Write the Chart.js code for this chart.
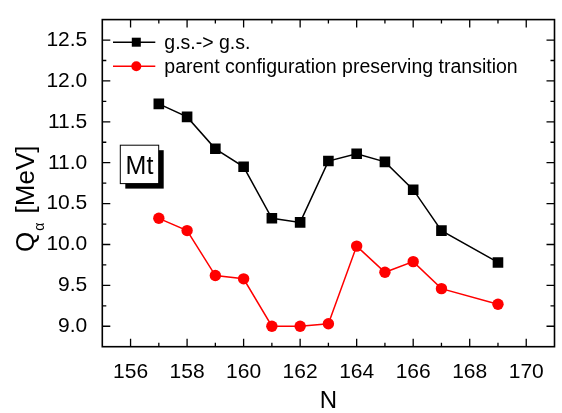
<!DOCTYPE html>
<html>
<head>
<meta charset="utf-8">
<script src="https://cdn.jsdelivr.net/npm/chart.js@4/dist/chart.umd.min.js"></script>
<style>
  html, body { margin: 0; padding: 0; background: #fff; }
</style>
</head>
<body>
<canvas id="myChart" width="562" height="413"></canvas>
<script>
// g.s. -> g.s. Q-alpha values (N = 168 not measured)
const nGs = [157, 158, 159, 160, 161, 162, 163, 164, 165, 166, 167, 169];
const qGs = [11.72, 11.56, 11.17, 10.95, 10.32, 10.27, 11.02, 11.11, 11.01, 10.67, 10.17, 9.78];

// parent configuration preserving transition
const nPc = [157, 158, 159, 160, 161, 162, 163, 164, 165, 166, 167, 169];
const qPc = [10.32, 10.17, 9.62, 9.58, 9.00, 9.00, 9.03, 9.98, 9.66, 9.79, 9.46, 9.27];

// axis ticks
const xTicks = [156, 158, 160, 162, 164, 166, 168, 170];
const xMinor = [157, 159, 161, 163, 165, 167, 169];
const yTicks = [9.0, 9.5, 10.0, 10.5, 11.0, 11.5, 12.0, 12.5];
const yMinor = [9.25, 9.75, 10.25, 10.75, 11.25, 11.75, 12.25];

const seriesNames = ['g.s.-> g.s.', 'parent configuration preserving transition'];
const seriesColors = ['#000000', '#ff0000'];
const seriesStyles = ['rect', 'circle'];

const FONT = '"Liberation Sans", Arial, sans-serif';

// frame, inward ticks, legend, label box and y title
const decoPlugin = {
  id: 'deco',
  afterDatasetsDraw(chart) {
    const { ctx, chartArea: a, scales: { x, y } } = chart;
    ctx.save();

    // ticks on all four sides, pointing in
    ctx.strokeStyle = '#000';
    ctx.lineWidth = 1.3;
    ctx.beginPath();
    const xMark = (v, len) => {
      const px = x.getPixelForValue(v);
      ctx.moveTo(px, a.bottom); ctx.lineTo(px, a.bottom - len);
      ctx.moveTo(px, a.top); ctx.lineTo(px, a.top + len);
    };
    const yMark = (v, len) => {
      const py = y.getPixelForValue(v);
      ctx.moveTo(a.left, py); ctx.lineTo(a.left + len, py);
      ctx.moveTo(a.right, py); ctx.lineTo(a.right - len, py);
    };
    xTicks.forEach(v => xMark(v, 8));
    xMinor.forEach(v => xMark(v, 4));
    yTicks.forEach(v => yMark(v, 8));
    yMinor.forEach(v => yMark(v, 4));
    ctx.stroke();

    // frame
    ctx.lineWidth = 1.6;
    ctx.strokeRect(a.left, a.top, a.right - a.left, a.bottom - a.top);

    // legend
    ctx.font = '19.5px ' + FONT;
    ctx.textBaseline = 'middle';
    ctx.textAlign = 'left';
    seriesNames.forEach((name, i) => {
      const ly = a.top + 22.6 + i * 24;
      const lx = a.left + 10.7;
      ctx.strokeStyle = seriesColors[i];
      ctx.lineWidth = 1.5;
      ctx.beginPath();
      ctx.moveTo(lx, ly); ctx.lineTo(lx + 42.3, ly);
      ctx.stroke();
      ctx.fillStyle = seriesColors[i];
      if (seriesStyles[i] === 'rect') {
        ctx.fillRect(lx + 23.3 - 4.5, ly - 4.5, 9, 9);
      } else {
        ctx.beginPath();
        ctx.arc(lx + 23.3, ly, 5, 0, Math.PI * 2);
        ctx.fill();
      }
      ctx.fillStyle = '#000';
      ctx.fillText(name, a.left + 62, ly + 1);
    });

    // "Mt" box with shadow
    const bx = a.left + 18, by = a.top + 125.6, bw = 38.4, bh = 38.4;
    ctx.fillStyle = '#000';
    ctx.fillRect(bx + 5, by + 5, bw, bh);
    ctx.fillStyle = '#fff';
    ctx.fillRect(bx, by, bw, bh);
    ctx.lineWidth = 1;
    ctx.strokeStyle = '#000';
    ctx.strokeRect(bx, by, bw, bh);
    ctx.fillStyle = '#000';
    ctx.font = '25px ' + FONT;
    ctx.textAlign = 'center';
    ctx.textBaseline = 'alphabetic';
    ctx.fillText('Mt', bx + bw / 2, by + 29);

    // y axis title Q_alpha [MeV]
    ctx.translate(34, 252);
    ctx.rotate(-Math.PI / 2);
    ctx.textAlign = 'left';
    ctx.font = '26px ' + FONT;
    ctx.fillText('Q', 0, 0);
    const wQ = ctx.measureText('Q').width;
    ctx.font = '14px ' + FONT;
    ctx.fillText('α', wQ + 1, 10);
    const wA = ctx.measureText('α').width;
    ctx.font = '26px ' + FONT;
    ctx.fillText(' [MeV]', wQ + wA + 3, 0);

    ctx.restore();
  }
};

const ctx = document.getElementById('myChart');

const myChart = new Chart(ctx, {
  type: 'line',
  data: {
    datasets: [
      {
        label: seriesNames[0],
        data: nGs.map((n, i) => ({ x: n, y: qGs[i] })),
        borderColor: seriesColors[0],
        backgroundColor: seriesColors[0],
        borderWidth: 1.5,
        pointStyle: 'rect',
        pointRadius: 7.5,
        pointBorderWidth: 0,
        tension: 0,
      },
      {
        label: seriesNames[1],
        data: nPc.map((n, i) => ({ x: n, y: qPc[i] })),
        borderColor: seriesColors[1],
        backgroundColor: seriesColors[1],
        borderWidth: 1.5,
        pointStyle: 'circle',
        pointRadius: 5.7,
        pointBorderWidth: 0,
        tension: 0,
      }
    ]
  },
  options: {
    responsive: false,
    animation: false,
    layout: { padding: { top: 6.7, right: 1.3, left: 0, bottom: 0 } },
    plugins: {
      legend: { display: false },
      tooltip: { enabled: false },
    },
    scales: {
      x: {
        type: 'linear',
        min: 155,
        max: 171,
        afterBuildTicks: s => { s.ticks = xTicks.map(v => ({ value: v })); },
        afterFit: s => { s.height = 66.3; },
        grid: { display: false },
        border: { display: false },
        ticks: {
          color: '#000',
          padding: 5,
          font: { size: 21, family: FONT },
          callback: v => String(v),
        },
        title: {
          display: true,
          text: 'N',
          color: '#000',
          font: { size: 24, family: FONT, lineHeight: 1 },
          padding: { top: 0, bottom: 0 },
        },
      },
      y: {
        min: 8.75,
        max: 12.75,
        afterBuildTicks: s => { s.ticks = yTicks.map(v => ({ value: v })); },
        afterFit: s => { s.width = 102.3; },
        grid: { display: false },
        border: { display: false },
        ticks: {
          color: '#000',
          padding: 7,
          font: { size: 21, family: FONT },
          callback: v => v.toFixed(1),
        },
      },
    },
  },
  plugins: [decoPlugin],
});
</script>
</body>
</html>
